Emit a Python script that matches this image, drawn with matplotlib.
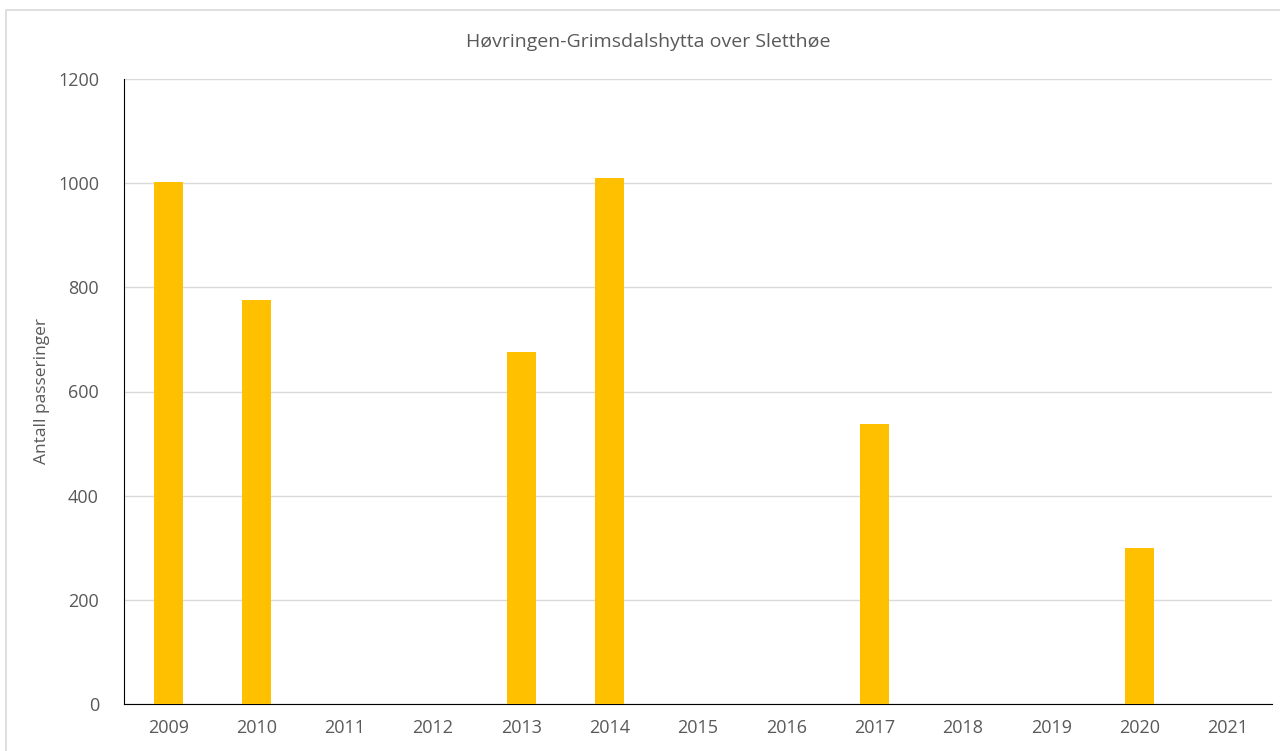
import matplotlib.pyplot as plt
import matplotlib.patches as mpatches

years = ['2009', '2010', '2011', '2012', '2013', '2014', '2015',
         '2016', '2017', '2018', '2019', '2020', '2021']
passeringer = [1002, 776, 0, 0, 676, 1010, 0, 0, 538, 0, 0, 300, 0]

plt.rcParams['font.family'] = ['Open Sans', 'DejaVu Sans']
txt = '#595959'

fig = plt.figure(figsize=(12.8, 7.51), dpi=100)
ax = fig.add_axes([124 / 1280, 47 / 751, 1148 / 1280, 625 / 751])

# light frame around the whole chart area
fig.patches.append(mpatches.Rectangle((6 / 1280, -0.01), 1.0, (751 - 10) / 751 + 0.01,
                                      transform=fig.transFigure, fill=False,
                                      edgecolor='#d9d9d9', linewidth=1.2))

x = range(len(years))
ax.bar(x, passeringer, width=0.33, color='#ffc000', zorder=3)

ax.set_xlim(-0.5, len(years) - 0.5)
ax.set_ylim(0, 1200)
ax.set_yticks(range(0, 1201, 200))
ax.set_xticks(list(x))
ax.set_xticklabels(years)
ax.grid(axis='y', color='#d9d9d9', linewidth=1, zorder=0)

for s in ['top', 'right']:
    ax.spines[s].set_visible(False)
ax.spines['left'].set_color('black')
ax.spines['bottom'].set_color('black')
ax.tick_params(length=0, labelsize=13, colors=txt, pad=11)
ax.tick_params(axis='y', pad=18)

ax.set_ylabel('Antall passeringer', fontsize=12.5, color=txt, labelpad=6)
fig.text(648 / 1280, 1 - 42 / 751, 'Høvringen-Grimsdalshytta over Sletthøe',
         fontsize=14, color=txt, ha='center', va='center')

fig.savefig('out.png', dpi=100)
